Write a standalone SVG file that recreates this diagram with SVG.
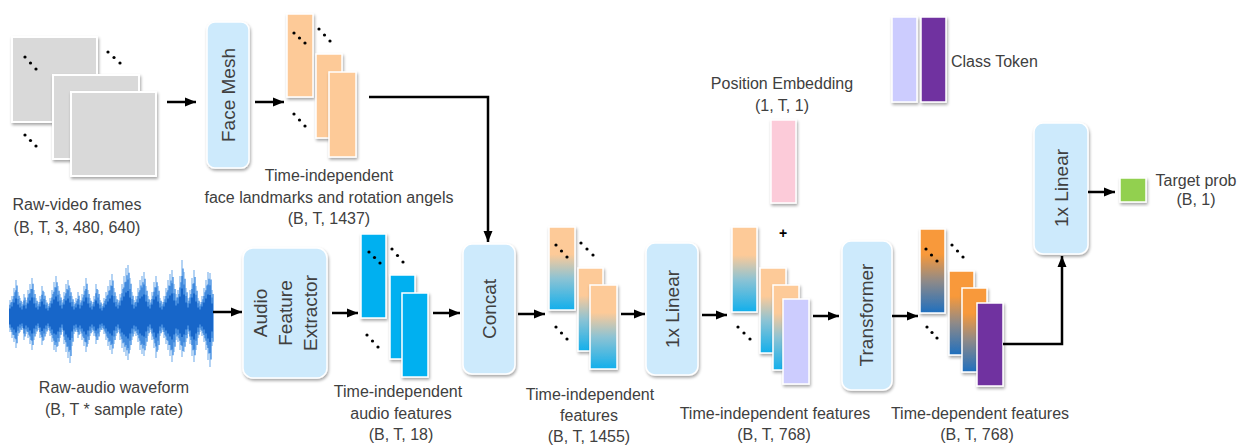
<svg xmlns="http://www.w3.org/2000/svg" xmlns:xlink="http://www.w3.org/1999/xlink" width="1241" height="445" viewBox="0 0 1241 445">
<style>
text{font-family:"Liberation Sans",Arial,sans-serif;fill:#404040;}
.lbl{font-size:16px;text-anchor:middle;}
.lbll{font-size:16px;text-anchor:start;}
.box{fill:#cdeafc;stroke:#ffffff;stroke-width:1.5;filter:url(#sh);}
.btxt{font-size:19px;text-anchor:middle;dominant-baseline:central;}
.frame{fill:#d9d9d9;stroke:#ffffff;stroke-width:2;filter:url(#sh);}
.feat{stroke:#ffffff;stroke-width:1.5;filter:url(#sh);}
.or{fill:#fdca98;}
.bl{fill:#00b0f0;}
.ga{fill:url(#gA);}
.gb{fill:url(#gB);}
.lav{fill:#ccccfe;}
.pur{fill:#7030a0;}
.pink{fill:#fccbd9;}
.grn{fill:#92d050;}
.dot{fill:#000000;}
.conn{fill:none;stroke:#000000;stroke-width:2.5;}
.arr{marker-end:url(#ah);}
</style>
<defs>
<filter id="sh" x="-30%" y="-20%" width="160%" height="140%">
<feDropShadow dx="1" dy="2" stdDeviation="1.5" flood-color="#000000" flood-opacity="0.35"/>
</filter>
<linearGradient id="gA" x1="0" y1="0" x2="0" y2="1">
<stop offset="0" stop-color="#fdca98"/>
<stop offset="0.33" stop-color="#fdca98"/>
<stop offset="0.62" stop-color="#8cc3d4"/>
<stop offset="1" stop-color="#12afec"/>
</linearGradient>
<linearGradient id="gB" x1="0" y1="0" x2="0" y2="1">
<stop offset="0" stop-color="#f8993a"/>
<stop offset="0.3" stop-color="#f8993a"/>
<stop offset="0.62" stop-color="#8f8a88"/>
<stop offset="1" stop-color="#1f6fbf"/>
</linearGradient>
<marker id="ah" markerUnits="userSpaceOnUse" markerWidth="12" markerHeight="10" refX="11" refY="5" orient="auto">
<path d="M0,0.5 L11,5 L0,9.5 z" fill="#000000"/>
</marker>
<path id="wave" d="M10 300V332M12 296V338M14 288V342M16 280V348M18 292V336M20 298V332M22 302V330M24 294V340M26 300V334M28 290V338M30 284V344M32 278V350M34 290V340M36 298V334M38 302V330M40 296V338M42 286V345M44 292V340M46 300V334M48 304V330M50 298V336M52 290V342M54 282V350M56 276V352M58 286V346M60 294V338M62 300V332M64 292V344M66 284V352M68 280V358M70 288V363M72 296V346M74 302V334M76 298V332M78 292V338M80 300V334M82 294V340M84 286V346M86 278V352M88 290V344M90 298V336M92 302V332M94 296V336M96 284V344M98 290V340M100 300V332M102 304V330M104 298V334M106 292V340M108 286V346M110 280V350M112 274V354M114 288V344M116 296V336M118 300V332M120 294V340M122 284V348M124 276V352M126 268V356M128 265V360M130 278V350M132 292V340M134 300V334M136 296V336M138 288V342M140 280V350M142 276V354M144 272V356M146 286V346M148 296V336M150 300V332M152 292V340M154 282V348M156 276V358M158 286V350M160 298V336M162 302V332M164 296V338M166 288V344M168 280V350M170 274V356M172 270V362M174 284V352M176 294V340M178 290V342M180 276V350M182 260V357M184 272V352M186 288V342M188 298V334M190 290V344M192 278V356M194 270V362M196 286V350M198 298V338M200 302V332M202 296V336M204 288V342M206 280V350M208 272V360M210 273V367M212 290V346"/>
</defs>
<rect width="1241" height="445" fill="#ffffff"/>

<g id="video-frames">
<rect class="frame" x="12" y="37" width="85" height="85"/>
<rect class="frame" x="53" y="75" width="86" height="84"/>
<rect class="frame" x="71" y="92" width="85" height="84"/>
<circle class="dot" cx="25" cy="57" r="1.6"/><circle class="dot" cx="30.5" cy="63" r="1.6"/><circle class="dot" cx="36" cy="69" r="1.6"/>
<circle class="dot" cx="108" cy="52" r="1.6"/><circle class="dot" cx="114" cy="57.5" r="1.6"/><circle class="dot" cx="120" cy="63" r="1.6"/>
<circle class="dot" cx="25" cy="135" r="1.6"/><circle class="dot" cx="30.5" cy="140.5" r="1.6"/><circle class="dot" cx="36" cy="146" r="1.6"/>
<text class="lbl" x="77" y="210">Raw-video frames</text>
<text class="lbl" x="77" y="233">(B, T, 3, 480, 640)</text>
</g>

<g id="face-mesh">
<rect class="box" x="207" y="22" width="42" height="146" rx="8"/>
<text class="btxt" transform="translate(228,95) rotate(-90)">Face Mesh</text>
</g>

<g id="face-landmarks">
<rect class="feat or" x="287" y="14" width="26" height="83"/>
<rect class="feat or" x="316" y="54" width="26" height="84"/>
<rect class="feat or" x="329" y="72" width="27" height="85"/>
<circle class="dot" cx="294" cy="33" r="1.6"/><circle class="dot" cx="299.5" cy="38" r="1.6"/><circle class="dot" cx="305" cy="43" r="1.6"/>
<circle class="dot" cx="319" cy="29" r="1.6"/><circle class="dot" cx="324.5" cy="35" r="1.6"/><circle class="dot" cx="330" cy="41" r="1.6"/>
<circle class="dot" cx="294" cy="114" r="1.6"/><circle class="dot" cx="299.5" cy="120" r="1.6"/><circle class="dot" cx="305" cy="126" r="1.6"/>
<text class="lbl" x="329" y="181">Time-independent</text>
<text class="lbl" x="329" y="202.5">face landmarks and rotation angels</text>
<text class="lbl" x="329" y="224">(B, T, 1437)</text>
</g>

<g id="audio-waveform">
<use xlink:href="#wave" href="#wave" stroke="#8cbcee" stroke-width="1.3" fill="none"/>
<use xlink:href="#wave" href="#wave" stroke="#3f8ce2" stroke-width="1.3" fill="none" transform="translate(1,317) scale(1,0.85) translate(0,-317)"/>
<use xlink:href="#wave" href="#wave" stroke="#2a79d6" stroke-width="1.2" fill="none" transform="translate(0,317) scale(1,0.72) translate(0,-317)"/>
<use xlink:href="#wave" href="#wave" stroke="#1766c9" stroke-width="2" fill="none" transform="translate(0,317) scale(1,0.5) translate(0,-317)"/>
<text class="lbl" x="114" y="393">Raw-audio waveform</text>
<text class="lbl" x="114" y="415">(B, T * sample rate)</text>
</g>

<g id="audio-feature-extractor">
<rect class="box" x="243" y="248" width="84" height="130" rx="10"/>
<g transform="translate(285,313) rotate(-90)">
<text class="btxt" x="0" y="-25">Audio</text>
<text class="btxt" x="0" y="0">Feature</text>
<text class="btxt" x="0" y="25">Extractor</text>
</g>
</g>

<g id="audio-features">
<rect class="feat bl" x="361" y="234" width="25" height="84"/>
<rect class="feat bl" x="390" y="275" width="25" height="84"/>
<rect class="feat bl" x="402" y="293" width="26" height="84"/>
<circle class="dot" cx="369" cy="252" r="1.6"/><circle class="dot" cx="374.5" cy="257.5" r="1.6"/><circle class="dot" cx="380" cy="263" r="1.6"/>
<circle class="dot" cx="392" cy="249" r="1.6"/><circle class="dot" cx="397.5" cy="255.5" r="1.6"/><circle class="dot" cx="403" cy="262" r="1.6"/>
<circle class="dot" cx="367" cy="335" r="1.6"/><circle class="dot" cx="372.5" cy="341" r="1.6"/><circle class="dot" cx="378" cy="347" r="1.6"/>
<text class="lbl" x="398" y="397">Time-independent</text>
<text class="lbl" x="401" y="419">audio features</text>
<text class="lbl" x="401" y="440">(B, T, 18)</text>
</g>

<g id="concat">
<rect class="box" x="463" y="244" width="52" height="130" rx="9"/>
<text class="btxt" transform="translate(489,309) rotate(-90)">Concat</text>
</g>

<g id="concat-features">
<rect class="feat ga" x="549" y="227" width="26" height="83"/>
<rect class="feat ga" x="578" y="268" width="25" height="83"/>
<rect class="feat ga" x="590" y="285" width="27" height="84"/>
<circle class="dot" cx="556" cy="245" r="1.6"/><circle class="dot" cx="561.5" cy="251" r="1.6"/><circle class="dot" cx="567" cy="257" r="1.6"/>
<circle class="dot" cx="581" cy="243" r="1.6"/><circle class="dot" cx="587" cy="249" r="1.6"/><circle class="dot" cx="593" cy="255" r="1.6"/>
<circle class="dot" cx="556" cy="327" r="1.6"/><circle class="dot" cx="561.5" cy="333" r="1.6"/><circle class="dot" cx="567" cy="339" r="1.6"/>
<text class="lbl" x="590" y="400">Time-independent</text>
<text class="lbl" x="589" y="421">features</text>
<text class="lbl" x="589" y="442">(B, T, 1455)</text>
</g>

<g id="linear-1">
<rect class="box" x="646" y="243" width="52" height="132" rx="9"/>
<text class="btxt" transform="translate(672,309) rotate(-90)">1x Linear</text>
</g>

<g id="position-embedding">
<text class="lbl" x="782" y="89">Position Embedding</text>
<text class="lbl" x="782" y="111">(1, T, 1)</text>
<rect class="feat pink" x="771" y="120" width="25" height="83"/>
</g>

<g id="class-token">
<rect class="feat lav" x="892" y="17" width="25" height="85"/>
<rect class="feat pur" x="921" y="17" width="25" height="85"/>
<text class="lbll" x="951" y="67">Class Token</text>
</g>

<g id="linear-features">
<text x="783" y="238" style="font-size:14px;text-anchor:middle;fill:#000000;font-weight:bold">+</text>
<rect class="feat ga" x="732" y="227" width="25" height="85"/>
<rect class="feat ga" x="760" y="268" width="26" height="85"/>
<rect class="feat ga" x="773" y="285" width="26" height="85"/>
<rect class="feat lav" x="783" y="299" width="26" height="85"/>
<circle class="dot" cx="738" cy="327" r="1.6"/><circle class="dot" cx="744" cy="333" r="1.6"/><circle class="dot" cx="750" cy="339" r="1.6"/>
<text class="lbl" x="775" y="419">Time-independent features</text>
<text class="lbl" x="774" y="440">(B, T, 768)</text>
</g>

<g id="transformer">
<rect class="box" x="842" y="241" width="50" height="149" rx="9"/>
<text class="btxt" transform="translate(866,315) rotate(-90)">Transformer</text>
</g>

<g id="transformer-features">
<rect class="feat gb" x="920" y="229" width="25" height="84"/>
<rect class="feat gb" x="949" y="271" width="25" height="84"/>
<rect class="feat gb" x="962" y="288" width="25" height="84"/>
<rect class="feat pur" x="977" y="303" width="26" height="83"/>
<circle class="dot" cx="926" cy="249" r="1.6"/><circle class="dot" cx="931.5" cy="255" r="1.6"/><circle class="dot" cx="937" cy="261" r="1.6"/>
<circle class="dot" cx="952" cy="245" r="1.6"/><circle class="dot" cx="957.5" cy="251" r="1.6"/><circle class="dot" cx="963" cy="257" r="1.6"/>
<circle class="dot" cx="927" cy="327" r="1.6"/><circle class="dot" cx="932" cy="332.5" r="1.6"/><circle class="dot" cx="937" cy="338" r="1.6"/>
<text class="lbl" x="980" y="419">Time-dependent features</text>
<text class="lbl" x="977" y="440">(B, T, 768)</text>
</g>

<g id="linear-2">
<rect class="box" x="1034" y="123" width="54" height="131" rx="9"/>
<text class="btxt" transform="translate(1061,188) rotate(-90)">1x Linear</text>
</g>

<g id="target-prob">
<rect class="feat grn" x="1120" y="178" width="26" height="24"/>
<text class="lbl" x="1196" y="186">Target prob</text>
<text class="lbl" x="1196" y="205">(B, 1)</text>
</g>

<g id="connectors">
<path class="conn arr" d="M167,102 H196"/>
<path class="conn arr" d="M255,102 H284"/>
<path class="conn arr" d="M369,97 H488 V242"/>
<path class="conn arr" d="M213,312 H242"/>
<path class="conn arr" d="M332,313 H358"/>
<path class="conn arr" d="M433,313 H460"/>
<path class="conn arr" d="M518,314 H545"/>
<path class="conn arr" d="M621,314 H645"/>
<path class="conn arr" d="M702,315 H727"/>
<path class="conn arr" d="M813,316 H839"/>
<path class="conn arr" d="M892,316 H918"/>
<path class="conn arr" d="M1003,344 H1062 V256"/>
<path class="conn arr" d="M1088,192 H1115"/>
</g>
</svg>
